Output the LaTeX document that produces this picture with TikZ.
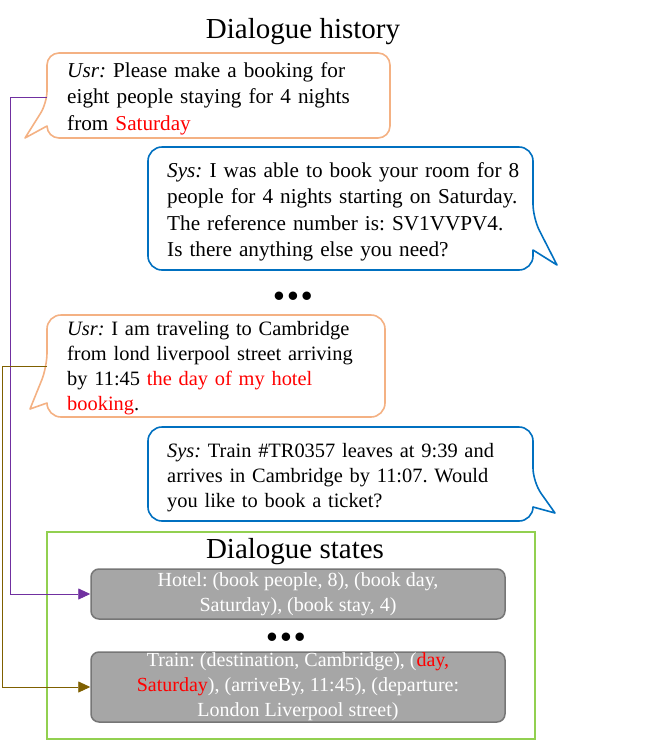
\documentclass[tikz,border=0pt]{standalone}
\usepackage{fontspec}
\setmainfont{Liberation Serif}
\usetikzlibrary{arrows.meta}
\definecolor{usrc}{RGB}{244,177,131}
\definecolor{sysc}{RGB}{0,112,192}
\definecolor{grn}{RGB}{146,208,80}
\definecolor{purp}{RGB}{112,48,160}
\definecolor{brn}{RGB}{127,96,0}
\definecolor{boxfill}{RGB}{166,166,166}
\definecolor{boxline}{RGB}{118,118,118}
\begin{document}
\frenchspacing
\begin{tikzpicture}[x=1pt,y=-1pt,
  usrbub/.style={draw=usrc, line width=1.6pt, fill=white, line join=round},
  sysbub/.style={draw=sysc, line width=1.6pt, fill=white, line join=round},
  txtA/.style={text width=440pt, align=left, inner sep=0pt, anchor=base west, font=\fontsize{21.2}{26.5}\selectfont},
  txtB/.style={text width=440pt, align=left, inner sep=0pt, anchor=base west, font=\fontsize{20.4}{25}\selectfont},
  title/.style={inner sep=0pt, anchor=base, font=\fontsize{29}{29}\selectfont},
  dots/.style={inner sep=0pt, font=\fontsize{31}{31}\selectfont\bfseries},
  statebox/.style={draw=boxline, fill=boxfill, line width=1.5pt, rounded corners=8pt, text=white, align=center, minimum width=414pt, inner xsep=2pt, inner ysep=0.5pt, font=\fontsize{20}{25}\selectfont},
  link/.style={line width=0.9pt, -{Triangle[length=12pt,width=11pt]}}
]
\useasboundingbox (0,0) rectangle (660,740);

% title
\node[title] (hist) at (303,38) {Dialogue history};

% connector anchor points on bubble edges
\coordinate (u1p) at (47,97);
\coordinate (u2p) at (47,366);

% bubble 1 (user)
\draw[usrbub] (47,103) -- (25,138) -- (47,126) [rounded corners=12pt] -- (47,138) -- (390,138) -- (390,53) -- (47,53) -- cycle;
\node[txtA] (u1) at (67,77) {\textit{Usr:} Please make a booking for\\eight people staying for 4 nights\\from \textcolor{red}{Saturday}};

% bubble 2 (system)
\draw[sysbub] (533,218) -- (557,265) -- (533,250) [rounded corners=14pt] -- (533,270) -- (148,270) -- (148,147) -- (533,147) -- cycle;
\node[txtA] (s1) at (167,177) {\textit{Sys:} I was able to book your room for 8\\people for 4 nights starting on Saturday.\\The reference number is: SV1VVPV4.\\Is there anything else you need?};

\node[dots] (d1) at (293,299) {•\hspace{3pt}•\hspace{3pt}•};

% bubble 3 (user)
\draw[usrbub] (47,367) -- (30,409) -- (47,403) [rounded corners=14pt] -- (47,417) -- (385,417) -- (385,315) -- (47,315) -- cycle;
\node[txtB] (u2) at (67,335) {\textit{Usr:} I am traveling to Cambridge\\from lond liverpool street arriving\\by 11:45 \textcolor{red}{the day of my hotel}\\\textcolor{red}{booking}.};

% bubble 4 (system)
\draw[sysbub] (533,482) -- (555,513) -- (533,507) [rounded corners=14pt] -- (533,521) -- (148,521) -- (148,427) -- (533,427) -- cycle;
\node[txtB] (s2) at (167,457) {\textit{Sys:} Train \#TR0357 leaves at 9:39 and\\arrives in Cambridge by 11:07. Would\\you like to book a ticket?};

% dialogue states
\node[draw=grn, line width=1.5pt, minimum width=488pt, minimum height=207pt, inner sep=0pt] (statesbox) at (291,635.5) {};
\node[title] (stitle) at (295,558) {Dialogue states};
\node[statebox, minimum height=50pt] (hotel) at (298,594) {Hotel: (book people, 8), (book day,\\Saturday), (book stay, 4)};
\node[dots] (d2) at (286,640) {•\hspace{3pt}•\hspace{3pt}•};
\node[statebox, minimum height=70pt] (train) at (298,687) {Train: (destination, Cambridge), (\textcolor{red}{day,}\\\textcolor{red}{Saturday}), (arriveBy, 11:45), (departure:\\London Liverpool street)};

% connectors
\draw[link, draw=purp] (u1p) -- ++(-37,0) |- (hotel.west);
\draw[link, draw=brn] (u2p) -- ++(-45,0) |- (train.west);
\end{tikzpicture}
\end{document}
